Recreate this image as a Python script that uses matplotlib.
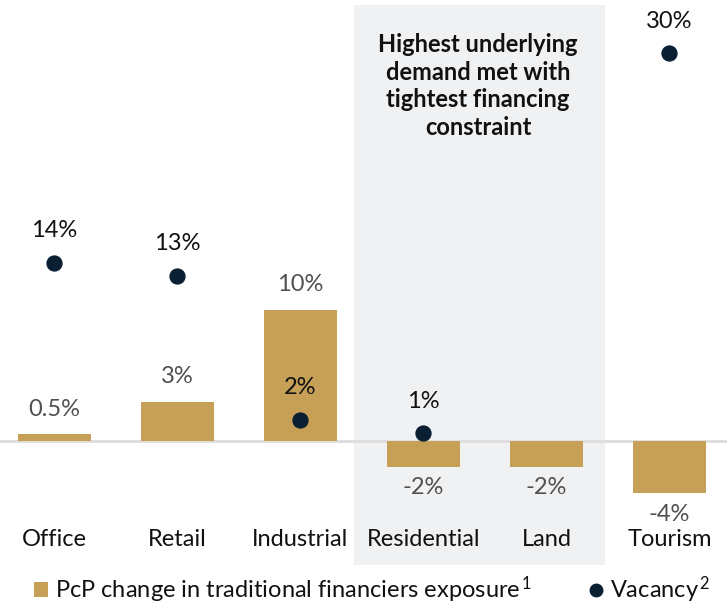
import matplotlib.pyplot as plt
from matplotlib.patches import Rectangle
from matplotlib.lines import Line2D

plt.rcParams['font.family'] = ['Lato', 'DejaVu Sans']
plt.rcParams['mathtext.fontset'] = 'custom'
plt.rcParams['mathtext.rm'] = 'Lato'
plt.rcParams['mathtext.it'] = 'Lato'
plt.rcParams['mathtext.default'] = 'regular'

categories = ["Office", "Retail", "Industrial", "Residential", "Land", "Tourism"]
exposure_change = [0.5, 3, 10, -2, -2, -4]      # PcP change, %
vacancy = [14, 13, 2, 1, None, 30]               # vacancy rate, %
exposure_labels = ["0.5%", "3%", "10%", "-2%", "-2%", "-4%"]
vacancy_labels = ["14%", "13%", "2%", "1%", None, "30%"]

BAR_COLOR = "#C6A057"
DOT_COLOR = "#0B1F33"
SHADE_COLOR = "#F0F1F3"
GRAY_TEXT = "#505050"
FS = 17

fig = plt.figure(figsize=(7.27, 6.06), dpi=100)
ax = fig.add_axes([0, 0, 1, 1])
ax.set_xlim(-0.443, 5.468)
ax.set_ylim(-12.6, 33.66)
ax.axis("off")

# vacancy sits on its own (slightly offset) scale
ax2 = fig.add_axes([0, 0, 1, 1], sharex=ax)
ax2.set_ylim(-12.21, 34.05)
ax2.axis("off")

# shaded panel behind Residential and Land
shade = Rectangle((354 / 727, 1 - 565 / 606), (605 - 354) / 727, (565 - 5) / 606,
                  transform=fig.transFigure, facecolor=SHADE_COLOR,
                  edgecolor="none", zorder=0, clip_on=False)
ax.add_patch(shade)

x = list(range(len(categories)))
ax.axhline(0, color="#DDDDDD", lw=2, zorder=1)
ax.bar(x, exposure_change, width=0.59, color=BAR_COLOR, zorder=2)

for xi, v, lab in zip(x, exposure_change, exposure_labels):
    off = 18 if v >= 0 else -15
    ax.annotate(lab, (xi, v), xytext=(0, off), textcoords="offset points",
                ha="center", va="center", fontsize=FS, color=GRAY_TEXT)

vx = [xi for xi, v in zip(x, vacancy) if v is not None]
vy = [v for v in vacancy if v is not None]
ax2.scatter(vx, vy, s=115, color=DOT_COLOR, zorder=3)
for xi, v, lab in zip(x, vacancy, vacancy_labels):
    if v is None:
        continue
    ax2.annotate(lab, (xi, v), xytext=(0, 23), textcoords="offset points",
                 ha="center", va="center", fontsize=FS, color="#111111")

for xi, cat in zip(x, categories):
    fig.text(ax.transData.transform((xi, 0))[0] / 727, 1 - 539 / 606, cat,
             ha="center", va="center", fontsize=FS, color="#111111")

fig.text(478 / 727, 1 - 86 / 606,
         "Highest underlying\ndemand met with\ntightest financing\nconstraint",
         ha="center", va="center", fontsize=FS, fontweight="bold",
         color="#111111", linespacing=1.25)

handles = [
    Rectangle((0, 0), 1, 1, facecolor=BAR_COLOR, edgecolor="none"),
    Line2D([], [], marker="o", linestyle="none", markersize=9,
           markerfacecolor=DOT_COLOR, markeredgecolor=DOT_COLOR),
]
labels = ["PcP change in traditional financiers exposure$^{\\,1}$",
          "Vacancy$^{\\,2}$"]
leg = fig.legend(handles, labels, loc="center", bbox_to_anchor=(0.512, 1 - 590 / 606),
                 ncol=2, frameon=False, fontsize=FS, handlelength=0.6,
                 handletextpad=0.3, columnspacing=2.4, handleheight=0.6)
for t in leg.get_texts():
    t.set_color("#111111")

fig.savefig("out.png", dpi=100)
